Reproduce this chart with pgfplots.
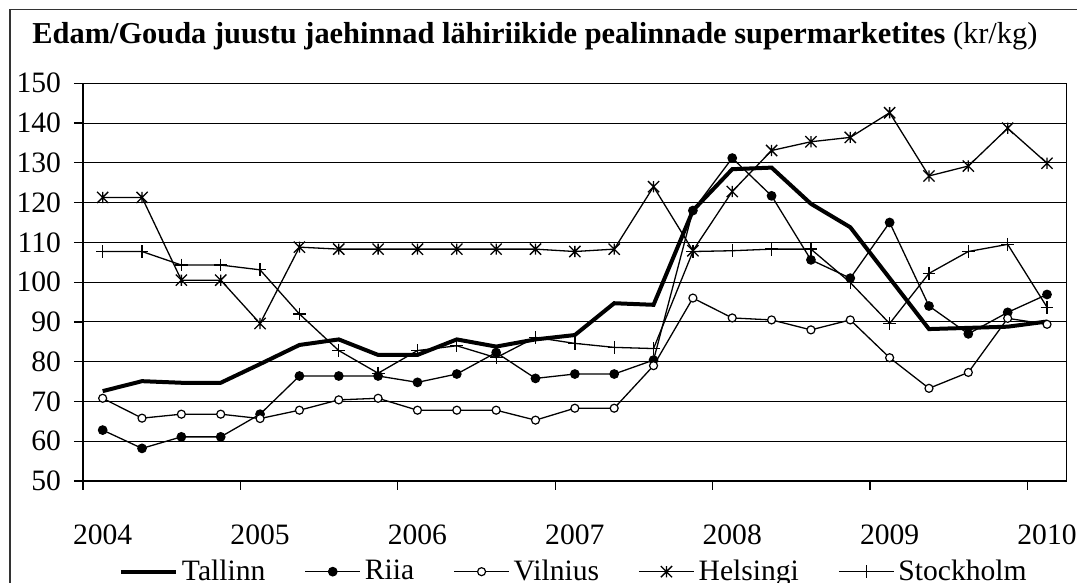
\documentclass[border=0pt]{standalone}
\usepackage{pgfplots}
\pgfplotsset{compat=1.18}
\usepackage{fontspec}
\setmainfont{Liberation Serif}
\pgfdeclareplotmark{xstar}{%
  \pgfpathmoveto{\pgfqpoint{0pt}{\pgfplotmarksize}}\pgfpathlineto{\pgfqpoint{0pt}{-\pgfplotmarksize}}%
  \pgfpathmoveto{\pgfqpoint{-\pgfplotmarksize}{\pgfplotmarksize}}\pgfpathlineto{\pgfqpoint{\pgfplotmarksize}{-\pgfplotmarksize}}%
  \pgfpathmoveto{\pgfqpoint{-\pgfplotmarksize}{-\pgfplotmarksize}}\pgfpathlineto{\pgfqpoint{\pgfplotmarksize}{\pgfplotmarksize}}%
  \pgfusepathqstroke}
\begin{document}
\begin{tikzpicture}
\useasboundingbox (0,0) rectangle (538.5pt,291.5pt);
\draw[line width=0.75pt, black!80] (5pt,-5pt) -- (5pt,286.85pt) -- (545pt,286.85pt);
\node[anchor=base west, inner sep=0pt, font=\fontsize{15.2}{17}\selectfont] at (16pt,269.8pt)
  {\textbf{Edam/Gouda juustu jaehinnad lähiriikide pealinnade supermarketites} (kr/kg)};
\begin{axis}[
  at={(41.5pt,51pt)}, anchor=south west,
  scale only axis, width=491.85pt, height=198.85pt,
  xmin=-0.5, xmax=24.5, ymin=50, ymax=150,
  ytick={50,60,...,150},
  xtick={-0.5,3.5,7.5,11.5,15.5,19.5,23.5},
  xticklabels={2004,2005,2006,2007,2008,2009,2010},
  xticklabel style={xshift=9.83pt, yshift=-14pt},
  yticklabel style={xshift=-3pt},
  tick align=outside, major tick length=4.5pt,
  xtick pos=bottom, ytick pos=left,
  ymajorgrids, grid style={black, line width=0.5pt},
  axis line style={line width=0.6pt},
  tick style={black, line width=0.6pt},
  ticklabel style={font=\fontsize{14.8}{16}\selectfont},
  /pgf/number format/assume math mode=true,
  legend columns=5,
  legend cell align=left,
  legend style={draw=none, fill=none, at={(0.5,-0.228)}, anchor=center,
    font=\fontsize{14.8}{16}\selectfont,
    /tikz/every even column/.append style={column sep=17.6pt}},
  legend image code/.code={\draw[mark repeat=2,mark phase=2,#1] plot coordinates {(0pt,0pt) (13.75pt,0pt) (27.5pt,0pt)};},
]
\addplot[black, line width=2pt, no markers] coordinates {
(0,72.6)(1,75.1)(2,74.7)(3,74.7)(4,79.4)(5,84.2)(6,85.6)(7,81.7)(8,81.7)(9,85.6)(10,83.8)(11,85.6)(12,86.7)
(13,94.7)(14,94.3)(15,118.0)(16,128.4)(17,128.8)(18,119.7)(19,113.8)(20,101.0)(21,88.2)(22,88.5)(23,88.8)(24,90.1)};
\addlegendentry{Tallinn}
\addplot[black, line width=0.65pt, mark=*, mark size=2.1pt, mark options={solid, fill=black}] coordinates {
(0,62.8)(1,58.2)(2,61.1)(3,61.1)(4,66.8)(5,76.4)(6,76.4)(7,76.4)(8,74.8)(9,76.9)(10,82.3)(11,75.8)(12,76.9)
(13,76.9)(14,80.4)(15,118.0)(16,131.2)(17,121.7)(18,105.6)(19,101.0)(20,115.0)(21,94.0)(22,87.0)(23,92.4)(24,96.9)};
\addlegendentry{Riia}
\addplot[black, line width=0.65pt, mark=*, mark size=2pt, mark options={solid, fill=white, line width=0.6pt}] coordinates {
(0,70.8)(1,65.8)(2,66.8)(3,66.8)(4,65.7)(5,67.8)(6,70.4)(7,70.8)(8,67.8)(9,67.8)(10,67.8)(11,65.3)(12,68.3)
(13,68.3)(14,79.0)(15,96.0)(16,91.0)(17,90.5)(18,88.0)(19,90.5)(20,81.0)(21,73.3)(22,77.3)(23,90.9)(24,89.4)};
\addlegendentry{Vilnius}
\addplot[black, line width=0.65pt, mark=xstar, mark size=2.8pt, mark options={solid, line width=0.65pt}] coordinates {
(0,121.3)(1,121.3)(2,100.5)(3,100.5)(4,89.6)(5,108.8)(6,108.3)(7,108.3)(8,108.3)(9,108.3)(10,108.3)(11,108.3)(12,107.7)
(13,108.3)(14,124.0)(15,107.9)(16,122.8)(17,133.1)(18,135.3)(19,136.4)(20,142.6)(21,126.7)(22,129.2)(23,138.7)(24,129.9)};
\addlegendentry{Helsingi}
\addplot[black, line width=0.65pt, mark=+, mark size=3.2pt, mark options={solid, line width=0.65pt}] coordinates {
(0,107.7)(1,107.7)(2,104.3)(3,104.3)(4,103.1)(5,92.0)(6,82.8)(7,77.1)(8,82.8)(9,84.0)(10,81.0)(11,86.1)(12,84.6)
(13,83.6)(14,83.3)(15,107.7)(16,107.9)(17,108.3)(18,108.3)(19,99.9)(20,89.6)(21,102.2)(22,107.7)(23,109.5)(24,93.7)};
\addlegendentry{Stockholm}
\end{axis}
\end{tikzpicture}
\end{document}
